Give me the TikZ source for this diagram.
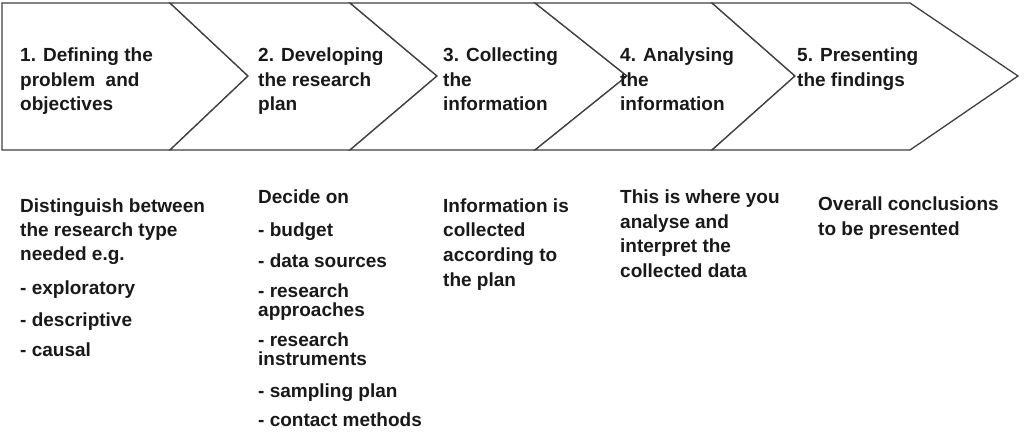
\documentclass[tikz,border=0pt]{standalone}
\usepackage{fontspec}
\setmainfont{Liberation Sans}
\begin{document}
\begin{tikzpicture}[x=1pt,y=-1pt,
  chev/.style={draw=black!75,line width=1.3pt,fill=white,line join=miter},
  t/.style={anchor=base west,inner sep=0pt,font=\fontsize{19}{22}\selectfont\bfseries,text=black!90}]
\useasboundingbox (0,0) rectangle (1024,436);
\draw[chev] (170,3) -- (248,76) -- (170,150) -- (2,150) -- (2,3) -- cycle;
\draw[chev] (170,3) -- (350,3) -- (437,76) -- (350,150) -- (170,150) -- (248,76) -- cycle;
\draw[chev] (350,3) -- (535,3) -- (627,76) -- (535,150) -- (350,150) -- (437,76) -- cycle;
\draw[chev] (535,3) -- (712,3) -- (795,76) -- (712,150) -- (535,150) -- (627,76) -- cycle;
\draw[chev] (712,3) -- (910,3) -- (1018,76) -- (910,150) -- (712,150) -- (795,76) -- cycle;
% headers
\node[t] (h1a) at (20,62) {1. Defining the};
\node[t] (h1b) at (20,86) {problem\ \ and};
\node[t] (h1c) at (20,110) {objectives};
\node[t] (h2a) at (258,62) {2. Developing};
\node[t] (h2b) at (258,86) {the research};
\node[t] (h2c) at (258,110) {plan};
\node[t] (h3a) at (443,62) {3. Collecting};
\node[t] (h3b) at (443,86) {the};
\node[t] (h3c) at (443,110) {information};
\node[t] (h4a) at (620,62) {4. Analysing};
\node[t] (h4b) at (620,86) {the};
\node[t] (h4c) at (620,110) {information};
\node[t] (h5a) at (797,62) {5. Presenting};
\node[t] (h5b) at (797,86) {the findings};
% column 1
\node[t] (a1) at (20,212) {Distinguish between};
\node[t] (a2) at (20,236) {the research type};
\node[t] (a3) at (20,260) {needed e.g.};
\node[t] (a4) at (20,294) {- exploratory};
\node[t] (a5) at (20,326) {- descriptive};
\node[t] (a6) at (20,356) {- causal};
% column 2
\node[t] (b1) at (258,203) {Decide on};
\node[t] (b2) at (258,236) {- budget};
\node[t] (b3) at (258,267) {- data sources};
\node[t] (b4) at (258,297) {- research};
\node[t] (b5) at (258,316) {approaches};
\node[t] (b6) at (258,346) {- research};
\node[t] (b7) at (258,365) {instruments};
\node[t] (b8) at (258,397) {- sampling plan};
\node[t] (b9) at (258,426) {- contact methods};
% column 3
\node[t] (c1) at (443,212) {Information is};
\node[t] (c2) at (443,236) {collected};
\node[t] (c3) at (443,261) {according to};
\node[t] (c4) at (443,286) {the plan};
% column 4
\node[t] (d1) at (620,203) {This is where you};
\node[t] (d2) at (620,228) {analyse and};
\node[t] (d3) at (620,252) {interpret the};
\node[t] (d4) at (620,277) {collected data};
% column 5
\node[t] (e1) at (818,210) {Overall conclusions};
\node[t] (e2) at (818,235) {to be presented};
\end{tikzpicture}
\end{document}
